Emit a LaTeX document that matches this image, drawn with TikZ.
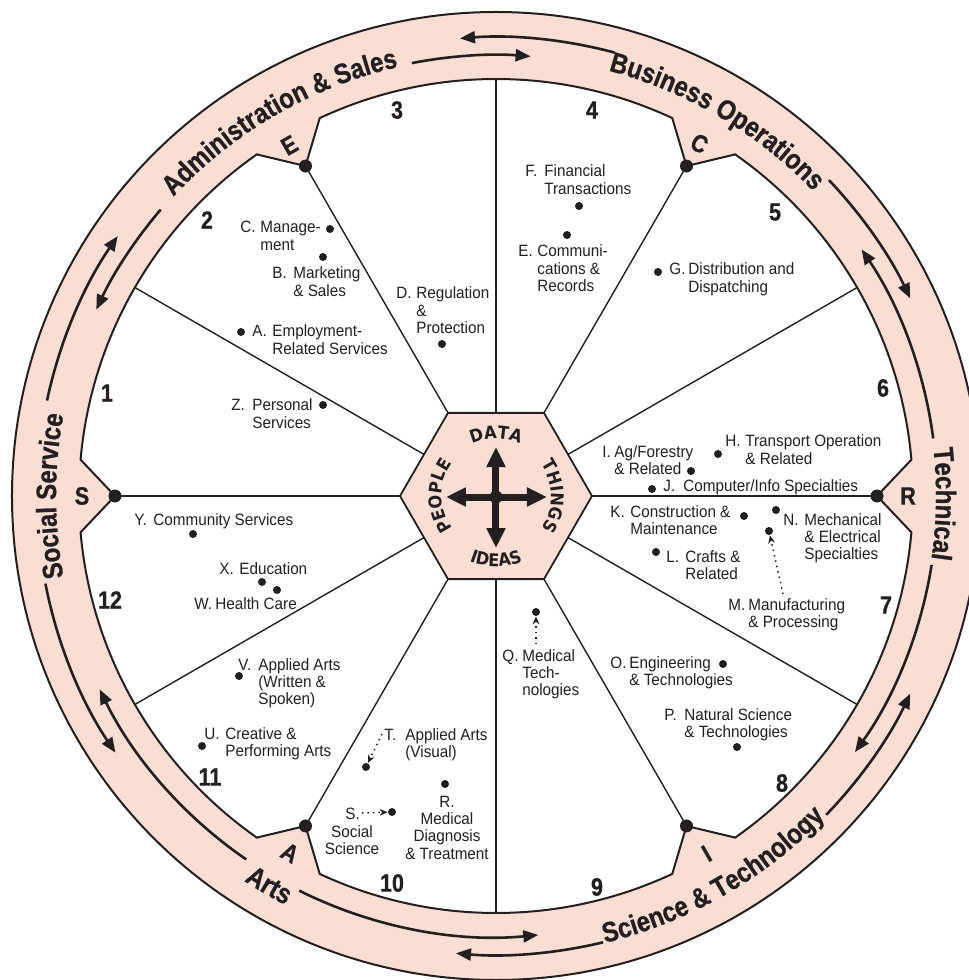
\documentclass[tikz,border=0pt]{standalone}
\usepackage{fontspec}
\setmainfont{Liberation Sans}
\newfontfamily\condf[FakeStretch=0.93]{Liberation Sans}
\newfontfamily\bcondf[FakeStretch=0.86,FakeBold=0.8]{Liberation Sans Bold}
\newfontfamily\hexff[FakeStretch=0.92]{DejaVu Sans Bold}
\usetikzlibrary{arrows.meta,decorations.text}
\definecolor{ringpink}{RGB}{250,221,211}
\definecolor{ink}{RGB}{35,31,32}
\newcommand\labfont{\condf\fontsize{8.2}{8.7}\selectfont}
\newcommand\numfont{\bcondf\fontsize{12.5}{12.5}\selectfont}
\newcommand\ringfont{\bcondf\fontsize{14}{14}\selectfont\color{ink}}
\newcommand\hexfont{\hexff\fontsize{8.8}{8.8}\selectfont\color{ink}}
\newcommand\ml[2][l]{\begin{tabular}[t]{@{}#1@{}}#2\end{tabular}}
\tikzset{
  lab/.style={font=\labfont, text=ink, inner sep=0pt, anchor=base west},
  labc/.style={font=\labfont, text=ink, inner sep=0pt, anchor=base},
  num/.style={font=\numfont, text=ink, inner sep=0pt, anchor=center},
  dot/.style={circle, fill=ink, draw=none, inner sep=0pt, minimum size=4pt},
  bigdot/.style={circle, fill=ink, draw=none, inner sep=0pt, minimum size=6.5pt},
  spoke/.style={draw=ink, line width=0.7pt},
  rim/.style={draw=ink, line width=1pt},
  track/.style={draw=ink, line width=1.3pt, -{Triangle[length=7.5pt,width=6pt]}},
  dotarr/.style={draw=ink, line width=0.75pt, dotted, -{Stealth[length=4pt,width=3.4pt]}},
  hubarr/.style={draw=ink, line width=3.5pt, -{Triangle[length=10pt,width=9pt]}},
}
\begin{document}
\begin{tikzpicture}[x=0.5pt,y=0.5pt]
\useasboundingbox (-496,-484) rectangle (473,496);
\clip (-496,-484) rectangle (473,496);
\fill[white] (-496,-484) rectangle (473,496);
% ---------- ring ----------
\def\inner{(5:417) arc[start angle=5,end angle=55,radius=417] -- (60:381)
  -- (65:417) arc[start angle=65,end angle=115,radius=417] -- (120:381)
  -- (125:417) arc[start angle=125,end angle=175,radius=417] -- (180:381)
  -- (185:417) arc[start angle=185,end angle=235,radius=417] -- (240:381)
  -- (245:417) arc[start angle=245,end angle=295,radius=417] -- (300:381)
  -- (305:417) arc[start angle=305,end angle=355,radius=417] -- (360:381) -- cycle}
\fill[ringpink, even odd rule] (0,0) circle (484) \inner;
\draw[rim] (0,0) circle (484);
\draw[rim, line join=miter] \inner;
% ---------- spokes ----------
\foreach \a in {0,60,...,300} \draw[spoke] (\a:96) -- (\a:381);
\foreach \a in {30,90,...,330} \draw[spoke] (\a:83.1) -- (\a:417);
% ---------- hexagon ----------
\draw[fill=ringpink, draw=ink, line width=0.9pt] (0:96) -- (60:96) -- (120:96) -- (180:96) -- (240:96) -- (300:96) -- cycle;
\coordinate (hubc) at (0,-1);
\coordinate (hubN) at (0,49);
\coordinate (hubS) at (0,-52);
\coordinate (hubW) at (-50,-1);
\coordinate (hubE) at (51,-1);
\draw[hubarr] (hubc) -- (hubN);
\draw[hubarr] (hubc) -- (hubS);
\draw[hubarr] (hubc) -- (hubW);
\draw[hubarr] (hubc) -- (hubE);
\node[circle, fill=ink, inner sep=0pt, minimum size=6.5pt] (hub) at (hubc) {};
\path[decorate, decoration={text along path, text={|\hexfont|DATA}, text align=center}]
  (130:57.5) arc[start angle=130,end angle=50,radius=57.5];
\path[decorate, decoration={text along path, text={|\hexfont|PEOPLE}, text align=center}]
  (240:54.5) arc[start angle=240,end angle=120,radius=54.5];
\path[decorate, decoration={text along path, text={|\hexfont|THINGS}, text align=center}]
  (60:55.5) arc[start angle=60,end angle=-60,radius=55.5];
\path[decorate, decoration={text along path, text={|\hexfont|IDEAS}, text align=center}]
  (225:70.5) arc[start angle=225,end angle=315,radius=70.5];
% ---------- ring labels ----------
\path[decorate, decoration={text along path, text={|\ringfont|Administration {\&} Sales}, text align=center}]
  (155:440) arc[start angle=155,end angle=85,radius=440];
\path[decorate, decoration={text along path, text={|\ringfont|Business Operations}, text align=center}]
  (94.5:440) arc[start angle=94.5,end angle=24.5,radius=440];
\path[decorate, decoration={text along path, text={|\ringfont|Technical}, text align=center}]
  (34:440) arc[start angle=34,end angle=-36,radius=440];
\path[decorate, decoration={text along path, text={|\ringfont|Social Service}, text align=center}]
  (215:440) arc[start angle=215,end angle=145,radius=440];
\path[decorate, decoration={text along path, text={|\ringfont|Science {\&} Technology}, text align=center}]
  (-95.3:460) arc[start angle=-95.3,end angle=-25.3,radius=460];
\path[decorate, decoration={text along path, text={|\ringfont|Arts}, text align=center}]
  (-150.2:460) arc[start angle=-150.2,end angle=-90.2,radius=460];
% ---------- ring arrows ----------
\draw[track] (168:459) arc[start angle=168,end angle=145.5,radius=459];
\draw[track] (139.5:441) arc[start angle=139.5,end angle=155,radius=441];
\draw[track] (101:441) arc[start angle=101,end angle=85.5,radius=441];
\draw[track] (75:459) arc[start angle=75,end angle=94.5,radius=459];
\draw[track] (43.5:459) arc[start angle=43.5,end angle=25.5,radius=459];
\draw[track] (7.5:441) arc[start angle=7.5,end angle=34,radius=441];
\draw[track] (-9:441) arc[start angle=-9,end angle=-35.5,radius=441];
\draw[track] (-44:459) arc[start angle=-44,end angle=-25.5,radius=459];
\draw[track] (-76.5:459) arc[start angle=-76.5,end angle=-95,radius=459];
\draw[track] (-116.5:441) arc[start angle=-116.5,end angle=-84.5,radius=441];
\draw[track] (-124.5:441) arc[start angle=-124.5,end angle=-154,radius=441];
\draw[track] (191:459) arc[start angle=191,end angle=214,radius=459];
% ---------- notch dots and letters ----------
\node[bigdot] (nR) at (0:381) {};
\node[bigdot] (nC) at (60:381) {};
\node[bigdot] (nE) at (120:381) {};
\node[bigdot] (nS) at (180:381) {};
\node[bigdot] (nA) at (240:381) {};
\node[bigdot] (nI) at (300:381) {};
\node[num, rotate=30] (lE) at (120.5:407) {E};
\node[num, rotate=-30] (lC) at (60:407) {C};
\node[num] (lR) at (0:412) {R};
\node[num] (lS) at (180:414) {S};
\node[num, rotate=-30] (lA) at (240:412) {A};
\node[num, rotate=30] (lI) at (-59.5:415) {I};
% ---------- pixel-space content ----------
\begin{scope}[shift={(-496,496)}, yscale=-1]
% numbers
\node[num] (n1) at (107,393) {1};
\node[num] (n2) at (207,220) {2};
\node[num] (n3) at (397,110) {3};
\node[num] (n4) at (592,110) {4};
\node[num] (n5) at (775,212) {5};
\node[num] (n6) at (883,388) {6};
\node[num] (n7) at (886,605) {7};
\node[num] (n8) at (782,783) {8};
\node[num] (n9) at (597,887) {9};
\node[num] (n10) at (392,883) {10};
\node[num] (n11) at (210,777) {11};
\node[num] (n12) at (110,600) {12};
% dots
\node[dot] (dC) at (330,229) {};
\node[dot] (dB) at (323,257) {};
\node[dot] (dD) at (442,344) {};
\node[dot] (dA) at (241,332) {};
\node[dot] (dZ) at (323,405) {};
\node[dot] (dF) at (579,206) {};
\node[dot] (dE) at (567,235) {};
\node[dot] (dG) at (658,272) {};
\node[dot] (dH) at (718,454) {};
\node[dot] (dI) at (691,471) {};
\node[dot] (dJ) at (652,489) {};
\node[dot] (dK) at (744,516) {};
\node[dot] (dN) at (776,510) {};
\node[dot] (dM) at (769,531) {};
\node[dot] (dL) at (656,552) {};
\node[dot] (dQ) at (536,612) {};
\node[dot] (dO) at (723,664) {};
\node[dot] (dP) at (737,747) {};
\node[dot] (dY) at (193,534) {};
\node[dot] (dX) at (262,582) {};
\node[dot] (dW) at (277,590) {};
\node[dot] (dV) at (239,676) {};
\node[dot] (dU) at (202,746) {};
\node[dot] (dT) at (366,767) {};
\node[dot] (dR) at (445,784) {};
\node[dot] (dS) at (392,812) {};
% labels
\node[lab] (pC) at (240,233) {C.};
\node[lab] (tC) at (260,233) {\ml{Manage-\\ment}};
\node[lab] (pB) at (272,279) {B.};
\node[lab] (tB) at (293,279) {\ml{Marketing\\\& Sales}};
\node[lab] (pD) at (396,299) {D.};
\node[lab] (tD) at (416,299) {\ml{Regulation\\\&\\Protection}};
\node[lab] (pA) at (252,337) {A.};
\node[lab] (tA) at (272,337) {\ml{Employment-\\Related Services}};
\node[lab] (pZ) at (231,411) {Z.};
\node[lab] (tZ) at (252,411) {\ml{Personal\\Services}};
\node[lab] (pF) at (525,177) {F.};
\node[lab] (tF) at (544,177) {\ml{Financial\\Transactions}};
\node[lab] (pE) at (518,257) {E.};
\node[lab] (tE) at (537,257) {\ml{Communi-\\cations \&\\Records}};
\node[lab] (pG) at (669,275) {G.};
\node[lab] (tG) at (688,275) {\ml{Distribution and\\Dispatching}};
\node[lab] (pH) at (725,447) {H.};
\node[lab] (tH) at (745,447) {\ml{Transport Operation\\\& Related}};
\node[lab] (pI) at (602,457) {I.};
\node[lab] (tI) at (614,457) {\ml{Ag/Forestry\\\& Related}};
\node[lab] (pJ) at (663,492) {J.};
\node[lab] (tJ) at (683,492) {Computer/Info Specialties};
\node[lab] (pK) at (610,517) {K.};
\node[lab] (tK) at (630,517) {\ml{Construction \&\\Maintenance}};
\node[lab] (pN) at (783,525) {N.};
\node[lab] (tN) at (804,525) {\ml{Mechanical\\\& Electrical\\Specialties}};
\node[lab] (pM) at (728,610) {M.};
\node[lab] (tM) at (748,610) {\ml{Manufacturing\\\& Processing}};
\node[lab] (pL) at (666,562) {L.};
\node[lab] (tL) at (685,562) {\ml{Crafts \&\\Related}};
\node[lab] (pQ) at (502,661) {Q.};
\node[lab] (tQ) at (522,661) {\ml{Medical\\Tech-\\nologies}};
\node[lab] (pO) at (610,668) {O.};
\node[lab] (tO) at (629,668) {\ml{Engineering\\\& Technologies}};
\node[lab] (pP) at (664,720) {P.};
\node[lab] (tP) at (684,720) {\ml{Natural Science\\\& Technologies}};
\node[lab] (pY) at (134,525) {Y.};
\node[lab] (tY) at (153,525) {Community Services};
\node[lab] (pX) at (219,574) {X.};
\node[lab] (tX) at (239,574) {Education};
\node[lab] (pW) at (194,609) {W.};
\node[lab] (tW) at (215,609) {Health Care};
\node[lab] (pV) at (238,670) {V.};
\node[lab] (tV) at (258,670) {\ml{Applied Arts\\(Written \&\\Spoken)}};
\node[lab] (pU) at (204,739) {U.};
\node[lab] (tU) at (225,739) {\ml{Creative \&\\Performing Arts}};
\node[lab] (pT) at (384,740) {T.};
\node[lab] (tT) at (405,740) {\ml{Applied Arts\\(Visual)}};
\node[labc] (tR) at (447,807) {\ml[c]{R.\\Medical\\Diagnosis\\\& Treatment}};
\node[lab] (pS) at (345,819) {S.};
\node[labc] (tS) at (352,837) {\ml[c]{Social\\Science}};
% dotted pointers
\coordinate (sM) at (783,594);
\coordinate (sQ) at (536,644);
\coordinate (sT) at (382,734);
\coordinate (sS) at (362,813);
\draw[dotarr] (sM) -- (dM);
\draw[dotarr] (sQ) -- (dQ);
\draw[dotarr] (sT) -- (dT);
\draw[dotarr] (sS) -- (dS);
\end{scope}
\end{tikzpicture}
\end{document}
